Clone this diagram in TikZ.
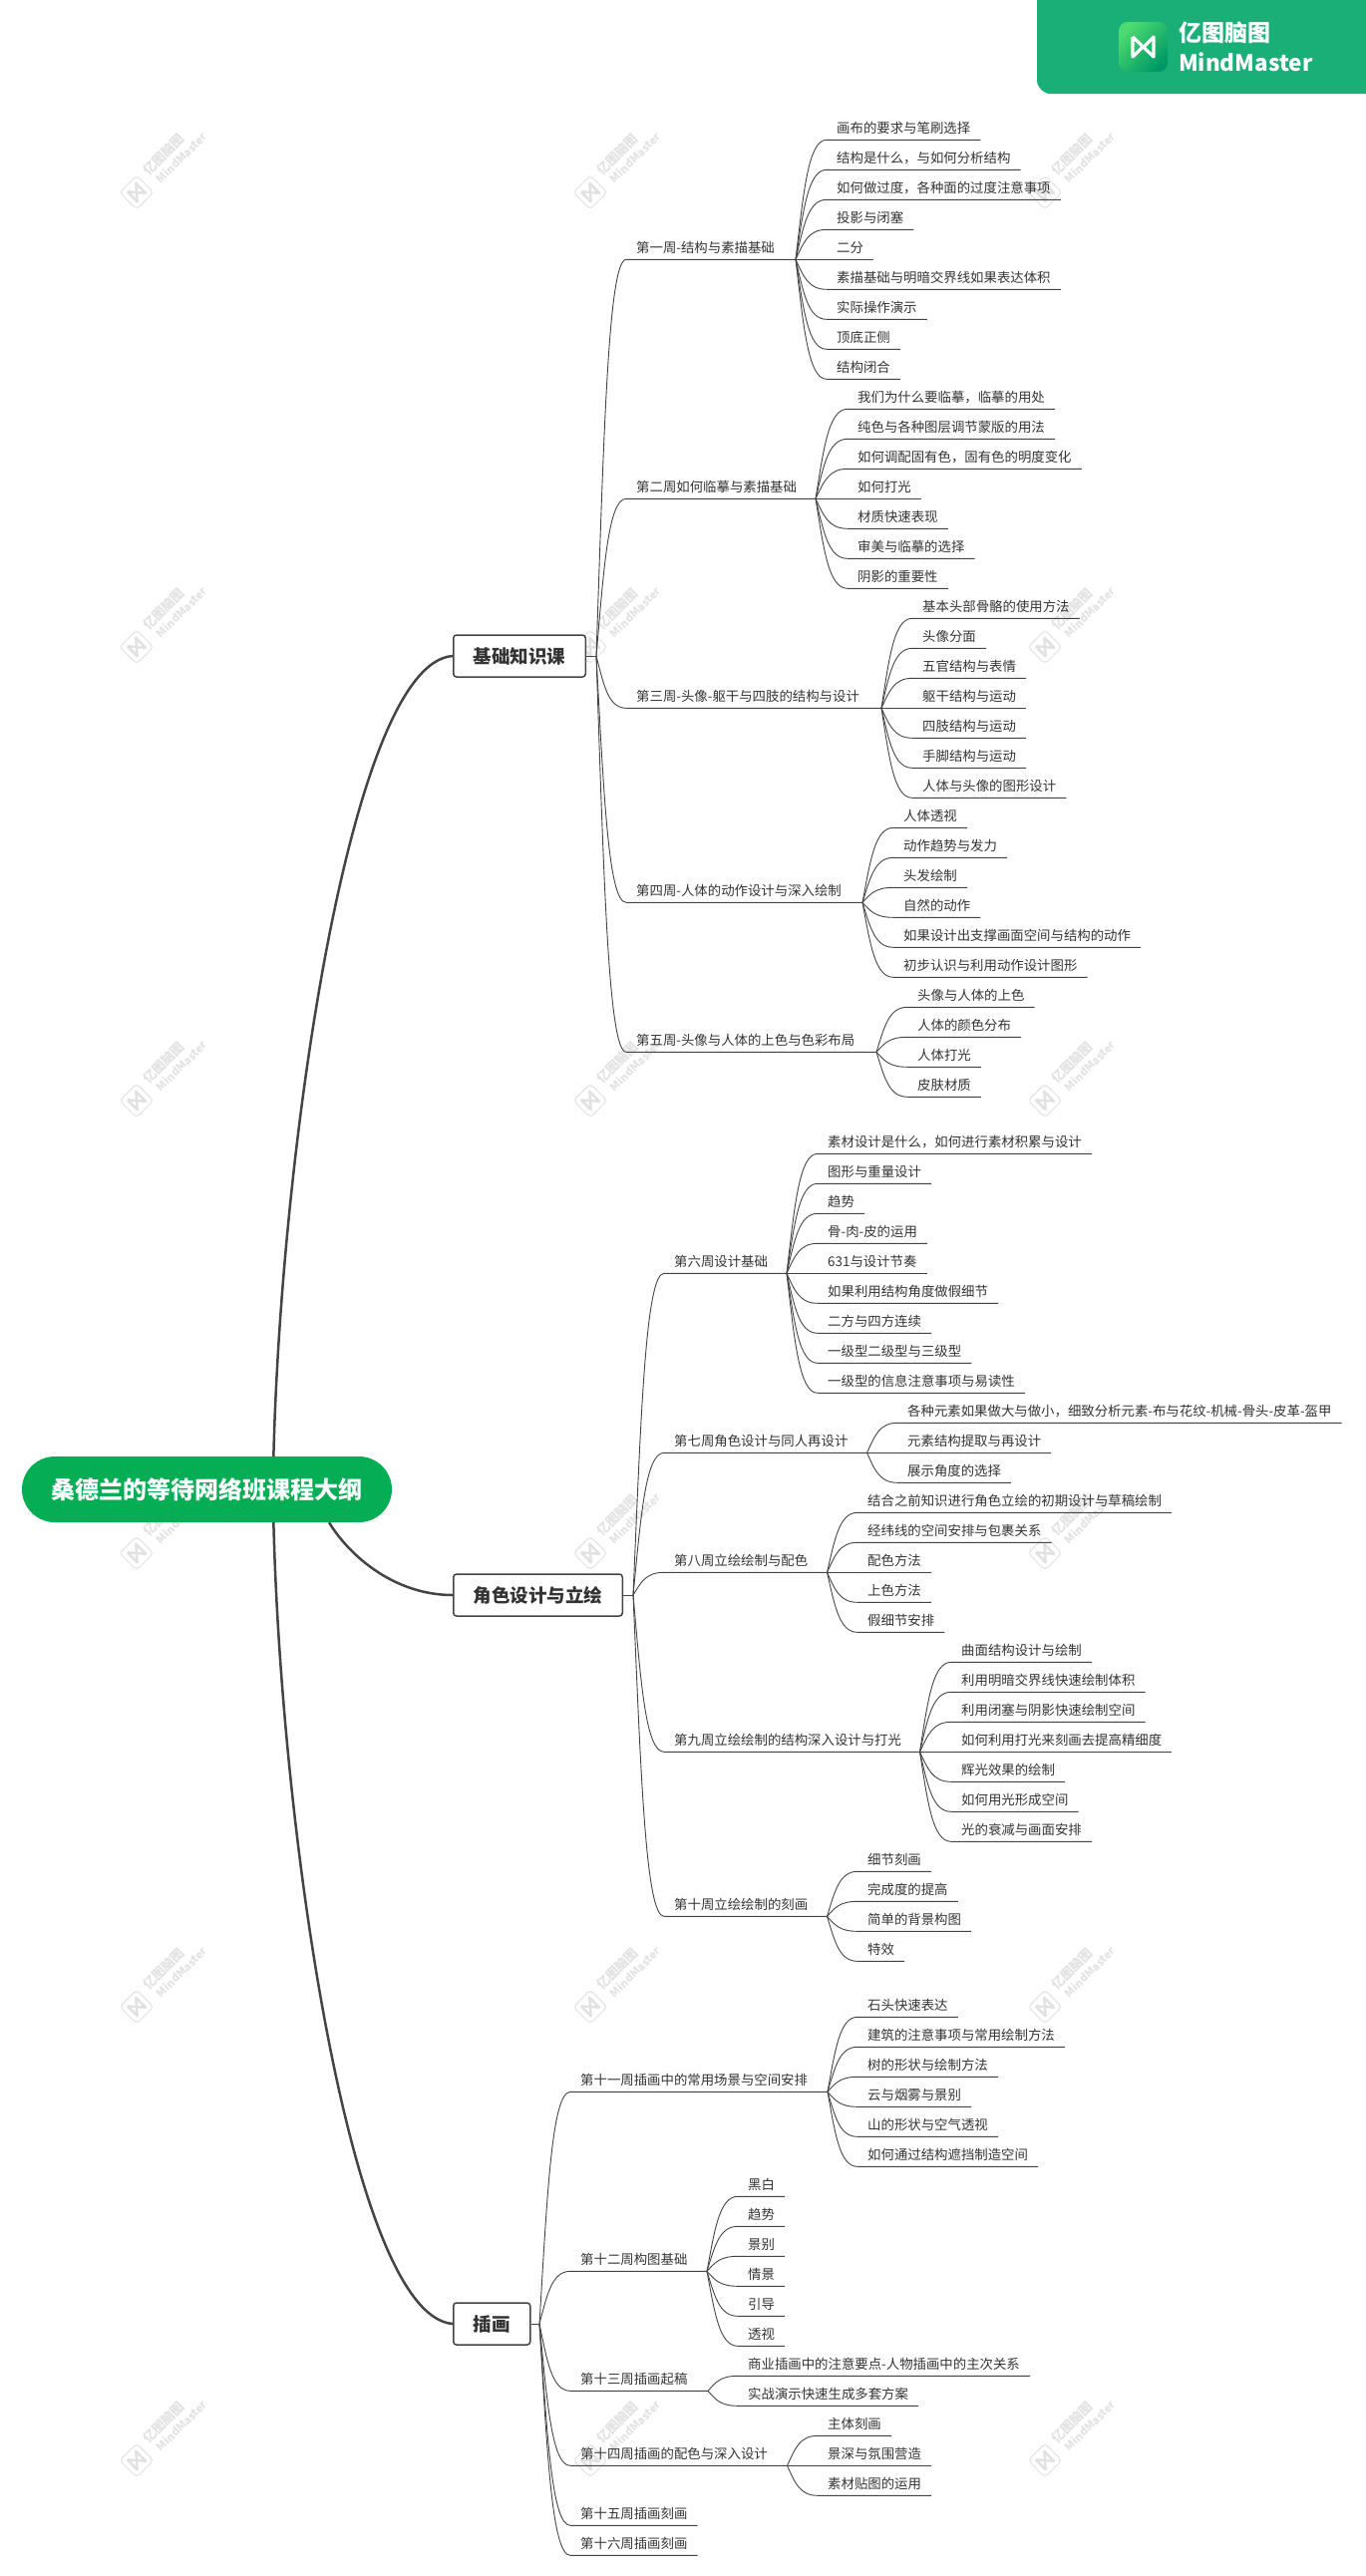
\documentclass[tikz,border=0pt]{standalone}
\usepackage{fontspec}
\setmainfont{Noto Sans CJK SC}
\usetikzlibrary{calc}
\definecolor{linecol}{HTML}{444444}
\definecolor{textcol}{HTML}{333333}
\definecolor{hubgreen}{HTML}{05AE54}
\definecolor{bannergreen}{HTML}{19AF77}
\definecolor{wmgray}{HTML}{E2E2E2}
\tikzset{
  hub/.style={fill=hubgreen, text=white, rounded corners=33, minimum width=371, minimum height=66, inner sep=0, font=\fontsize{24}{28}\selectfont\bfseries},
  topic/.style={draw=linecol, fill=white, line width=1.5, rounded corners=3, anchor=west, inner xsep=20, inner ysep=0, minimum height=42, text=textcol, font=\fontsize{18.5}{22}\selectfont\bfseries},
  leaf/.style={anchor=south west, inner xsep=10, inner ysep=0, text height=11, text depth=7, text=textcol, font=\fontsize{13.4}{16}\selectfont},
  twig/.style={draw=linecol, line width=0.9},
  trunk/.style={draw=linecol, line width=2.5},
  fan/.style={to path={let \p1=(\tikztostart),\p2=(\tikztotarget) in .. controls ({\x1+.25*(\x2-\x1)},{\y1+.55*(\y2-\y1)}) and ({\x1+.4*(\x2-\x1)},\y2) .. (\tikztotarget)}},
  wmcn/.style={text=wmgray, rotate=45, inner sep=0, font=\fontsize{13}{15}\selectfont\bfseries},
  wmen/.style={text=wmgray, rotate=45, inner sep=0, font=\fontsize{11}{13}\selectfont\bfseries}
}
\begin{document}
\begin{tikzpicture}[x=1pt, y=-1pt]
\useasboundingbox (0,0) rectangle (1370,2584);

\foreach \y in {193,649,1104,1558,2013,2468}
  \foreach \x in {137,592,1048} {
    \begin{scope}[shift={(\x,\y)}, rotate=45]
      \draw[wmgray, fill=white, line width=1, rounded corners=4] (-12,-12) rectangle (12,12);
      \draw[wmgray, line width=2.5, line join=round] (-6,-7) -- (6,7) -- (6,-7) -- (1,-1) (-6,-7) -- (-6,7) -- (-1,1);
    \end{scope}
    \node[wmcn] (wmcn-\x-\y) at (\x+27,\y-38) {亿图脑图};
    \node[wmen] (wmen-\x-\y) at (\x+45,\y-35) {MindMaster};
  }

\fill[bannergreen] (1040,0) [rounded corners=14] -- (1040,94) [sharp corners] -- (1370,94) -- (1370,0) -- cycle;
\shade[rounded corners=9, top color=green!60!teal!70!white, bottom color=teal!80!green, shading angle=45] (1122,22) rectangle (1171,72);
\draw[white, line width=3.2, line join=round] (1136,37) -- (1157,57) -- (1157,37) -- (1148,46) (1136,37) -- (1136,57) -- (1145,48);
\node[anchor=west, inner sep=0, text=white, font=\fontsize{23}{26}\selectfont\bfseries] (brandcn) at (1182,33) {亿图脑图};
\node[anchor=west, inner sep=0, text=white, font=\fontsize{22.5}{26}\selectfont\bfseries] (branden) at (1182,62) {MindMaster};

\node[hub] (hub) at (207.5,1494) {桑德兰的等待网络班课程大纲};
\node[topic] (k1) at (454,658) {基础知识课};
\node[topic] (k2) at (454,1600) {角色设计与立绘};
\node[topic] (k3) at (454,2331) {插画};
\draw[trunk] ($(hub.north west)!.68!(hub.north east)$) .. controls (282,1150) and (352,665) .. (k1.west);
\draw[trunk] ($(hub.south west)!.83!(hub.south east)$) .. controls (350,1560) and (395,1600) .. (k2.west);
\draw[trunk] ($(hub.south west)!.68!(hub.south east)$) .. controls (282,1838) and (352,2323) .. (k3.west);

\coordinate (jb1) at (598,658);
\coordinate (jb2) at (635,1600);
\coordinate (jb3) at (541,2331);
\draw[twig] (k1.east) -- (jb1);
\draw[twig] (k2.east) -- (jb2);
\draw[twig] (k3.east) -- (jb3);

\node[leaf] (w1) at (628,260.3) {第一周-结构与素描基础};
\node[leaf] (w2) at (628,500.3) {第二周如何临摹与素描基础};
\node[leaf] (w3) at (628,710.3) {第三周-头像-躯干与四肢的结构与设计};
\node[leaf] (w4) at (628,905.3) {第四周-人体的动作设计与深入绘制};
\node[leaf] (w5) at (628,1055.3) {第五周-头像与人体的上色与色彩布局};
\node[leaf] (w6) at (666,1277.3) {第六周设计基础};
\node[leaf] (w7) at (666,1457.3) {第七周角色设计与同人再设计};
\node[leaf] (w8) at (666,1577.3) {第八周立绘绘制与配色};
\node[leaf] (w9) at (666,1757.3) {第九周立绘绘制的结构深入设计与打光};
\node[leaf] (w10) at (666,1922.3) {第十周立绘绘制的刻画};
\node[leaf] (w11) at (572,2098.3) {第十一周插画中的常用场景与空间安排};
\node[leaf] (w12) at (572,2278.3) {第十二周构图基础};
\node[leaf] (w13) at (572,2398.3) {第十三周插画起稿};
\node[leaf] (w14) at (572,2473.3) {第十四周插画的配色与深入设计};
\node[leaf] (w15) at (572,2533.3) {第十五周插画刻画};
\node[leaf] (w16) at (572,2563.3) {第十六周插画刻画};

\coordinate (j1) at (798,260.3);
\coordinate (j2) at (818,500.3);
\coordinate (j3) at (884,710.3);
\coordinate (j4) at (865,905.3);
\coordinate (j5) at (879,1055.3);
\coordinate (j6) at (789,1277.3);
\coordinate (j7) at (869.5,1457.3);
\coordinate (j8) at (829.5,1577.3);
\coordinate (j9) at (922.5,1757.3);
\coordinate (j10) at (829.5,1922.3);
\coordinate (j11) at (830,2098.3);
\coordinate (j12) at (709,2278.3);
\coordinate (j13) at (710,2398.3);
\coordinate (j14) at (789.5,2473.3);

\foreach \i in {1,...,5} \draw[twig] (jb1) to[fan] (w\i.south west) -- (j\i);
\foreach \i in {6,...,10} \draw[twig] (jb2) to[fan] (w\i.south west) -- (j\i);
\foreach \i in {11,...,14} \draw[twig] (jb3) to[fan] (w\i.south west) -- (j\i);
\foreach \i in {15,16} \draw[twig] (jb3) to[fan] (w\i.south west) -- (w\i.south east);

\node[leaf] (a1-1) at (829,140.3) {画布的要求与笔刷选择};
\node[leaf] (a1-2) at (829,170.3) {结构是什么，与如何分析结构};
\node[leaf] (a1-3) at (829,200.3) {如何做过度，各种面的过度注意事项};
\node[leaf] (a1-4) at (829,230.3) {投影与闭塞};
\node[leaf] (a1-5) at (829,260.3) {二分};
\node[leaf] (a1-6) at (829,290.3) {素描基础与明暗交界线如果表达体积};
\node[leaf] (a1-7) at (829,320.3) {实际操作演示};
\node[leaf] (a1-8) at (829,350.3) {顶底正侧};
\node[leaf] (a1-9) at (829,380.3) {结构闭合};

\node[leaf] (a2-1) at (850,410.3) {我们为什么要临摹，临摹的用处};
\node[leaf] (a2-2) at (850,440.3) {纯色与各种图层调节蒙版的用法};
\node[leaf] (a2-3) at (850,470.3) {如何调配固有色，固有色的明度变化};
\node[leaf] (a2-4) at (850,500.3) {如何打光};
\node[leaf] (a2-5) at (850,530.3) {材质快速表现};
\node[leaf] (a2-6) at (850,560.3) {审美与临摹的选择};
\node[leaf] (a2-7) at (850,590.3) {阴影的重要性};

\node[leaf] (a3-1) at (915,620.3) {基本头部骨骼的使用方法};
\node[leaf] (a3-2) at (915,650.3) {头像分面};
\node[leaf] (a3-3) at (915,680.3) {五官结构与表情};
\node[leaf] (a3-4) at (915,710.3) {躯干结构与运动};
\node[leaf] (a3-5) at (915,740.3) {四肢结构与运动};
\node[leaf] (a3-6) at (915,770.3) {手脚结构与运动};
\node[leaf] (a3-7) at (915,800.3) {人体与头像的图形设计};

\node[leaf] (a4-1) at (896,830.3) {人体透视};
\node[leaf] (a4-2) at (896,860.3) {动作趋势与发力};
\node[leaf] (a4-3) at (896,890.3) {头发绘制};
\node[leaf] (a4-4) at (896,920.3) {自然的动作};
\node[leaf] (a4-5) at (896,950.3) {如果设计出支撑画面空间与结构的动作};
\node[leaf] (a4-6) at (896,980.3) {初步认识与利用动作设计图形};

\node[leaf] (a5-1) at (910,1010.3) {头像与人体的上色};
\node[leaf] (a5-2) at (910,1040.3) {人体的颜色分布};
\node[leaf] (a5-3) at (910,1070.3) {人体打光};
\node[leaf] (a5-4) at (910,1100.3) {皮肤材质};

\node[leaf] (a6-1) at (820,1157.3) {素材设计是什么，如何进行素材积累与设计};
\node[leaf] (a6-2) at (820,1187.3) {图形与重量设计};
\node[leaf] (a6-3) at (820,1217.3) {趋势};
\node[leaf] (a6-4) at (820,1247.3) {骨-肉-皮的运用};
\node[leaf] (a6-5) at (820,1277.3) {631与设计节奏};
\node[leaf] (a6-6) at (820,1307.3) {如果利用结构角度做假细节};
\node[leaf] (a6-7) at (820,1337.3) {二方与四方连续};
\node[leaf] (a6-8) at (820,1367.3) {一级型二级型与三级型};
\node[leaf] (a6-9) at (820,1397.3) {一级型的信息注意事项与易读性};

\node[leaf] (a7-1) at (900,1427.3) {各种元素如果做大与做小，细致分析元素-布与花纹-机械-骨头-皮革-盔甲};
\node[leaf] (a7-2) at (900,1457.3) {元素结构提取与再设计};
\node[leaf] (a7-3) at (900,1487.3) {展示角度的选择};

\node[leaf] (a8-1) at (860,1517.3) {结合之前知识进行角色立绘的初期设计与草稿绘制};
\node[leaf] (a8-2) at (860,1547.3) {经纬线的空间安排与包裹关系};
\node[leaf] (a8-3) at (860,1577.3) {配色方法};
\node[leaf] (a8-4) at (860,1607.3) {上色方法};
\node[leaf] (a8-5) at (860,1637.3) {假细节安排};

\node[leaf] (a9-1) at (954,1667.3) {曲面结构设计与绘制};
\node[leaf] (a9-2) at (954,1697.3) {利用明暗交界线快速绘制体积};
\node[leaf] (a9-3) at (954,1727.3) {利用闭塞与阴影快速绘制空间};
\node[leaf] (a9-4) at (954,1757.3) {如何利用打光来刻画去提高精细度};
\node[leaf] (a9-5) at (954,1787.3) {辉光效果的绘制};
\node[leaf] (a9-6) at (954,1817.3) {如何用光形成空间};
\node[leaf] (a9-7) at (954,1847.3) {光的衰减与画面安排};

\node[leaf] (a10-1) at (860,1877.3) {细节刻画};
\node[leaf] (a10-2) at (860,1907.3) {完成度的提高};
\node[leaf] (a10-3) at (860,1937.3) {简单的背景构图};
\node[leaf] (a10-4) at (860,1967.3) {特效};

\node[leaf] (a11-1) at (860,2023.3) {石头快速表达};
\node[leaf] (a11-2) at (860,2053.3) {建筑的注意事项与常用绘制方法};
\node[leaf] (a11-3) at (860,2083.3) {树的形状与绘制方法};
\node[leaf] (a11-4) at (860,2113.3) {云与烟雾与景别};
\node[leaf] (a11-5) at (860,2143.3) {山的形状与空气透视};
\node[leaf] (a11-6) at (860,2173.3) {如何通过结构遮挡制造空间};

\node[leaf] (a12-1) at (740,2203.3) {黑白};
\node[leaf] (a12-2) at (740,2233.3) {趋势};
\node[leaf] (a12-3) at (740,2263.3) {景别};
\node[leaf] (a12-4) at (740,2293.3) {情景};
\node[leaf] (a12-5) at (740,2323.3) {引导};
\node[leaf] (a12-6) at (740,2353.3) {透视};

\node[leaf] (a13-1) at (740,2383.3) {商业插画中的注意要点-人物插画中的主次关系};
\node[leaf] (a13-2) at (740,2413.3) {实战演示快速生成多套方案};

\node[leaf] (a14-1) at (820,2443.3) {主体刻画};
\node[leaf] (a14-2) at (820,2473.3) {景深与氛围营造};
\node[leaf] (a14-3) at (820,2503.3) {素材贴图的运用};

\foreach \g/\n in {1/9,2/7,3/7,4/6,5/4,6/9,7/3,8/5,9/7,10/4,11/6,12/6,13/2,14/3}
  \foreach \i in {1,...,\n}
    \draw[twig] (j\g) to[fan] (a\g-\i.south west) -- (a\g-\i.south east);
\end{tikzpicture}
\end{document}
